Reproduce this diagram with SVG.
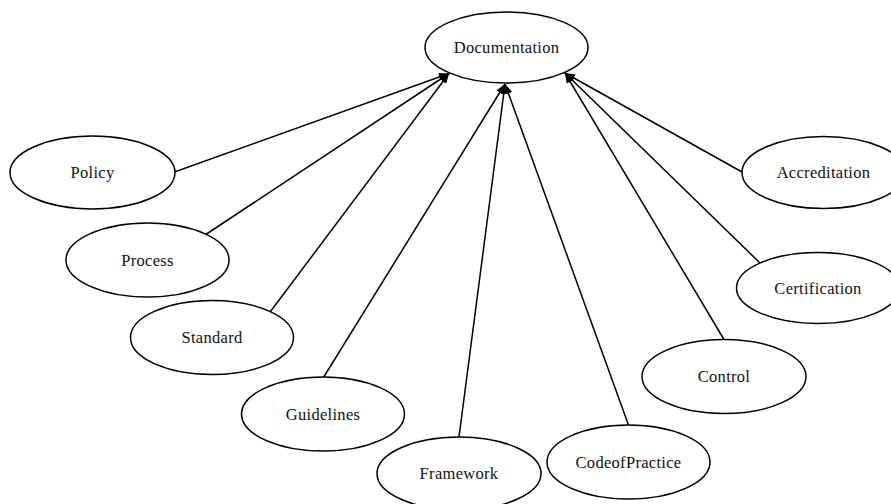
<svg xmlns="http://www.w3.org/2000/svg" width="891" height="504" viewBox="0 0 891 504">
  <style>
    .node ellipse { fill: #fff; stroke: #000; stroke-width: 1.5; }
    .node text { font-family: "Liberation Serif", "DejaVu Serif", serif; font-size: 16.5px; letter-spacing: 0.3px; text-anchor: middle; dominant-baseline: central; fill: #111; }
    .edges line { stroke: #000; stroke-width: 1.5; marker-end: url(#arrow); }
  </style>
  <defs>
    <marker id="arrow" viewBox="0 0 10 8" refX="10" refY="4" markerWidth="10" markerHeight="8" markerUnits="userSpaceOnUse" orient="auto">
      <path d="M0,0 L10,4 L0,8 Z" fill="#000"/>
    </marker>
  </defs>
  <rect width="891" height="504" fill="#fff"/>

  <!-- connectors: every topic points to Documentation -->
  <g id="edges" class="edges">
    <line x1="173" y1="172.5" x2="449" y2="73.5"/>
    <line x1="205" y1="235" x2="449" y2="73.5"/>
    <line x1="270.5" y1="311.5" x2="449" y2="73.5"/>
    <line x1="322.5" y1="379" x2="505" y2="84"/>
    <line x1="459" y1="437" x2="505" y2="84"/>
    <line x1="628.5" y1="425" x2="505" y2="84"/>
    <line x1="724" y1="339.5" x2="565" y2="73"/>
    <line x1="760" y1="263" x2="565" y2="73"/>
    <line x1="742" y1="172" x2="565" y2="73"/>
  </g>

  <g id="documentation" class="node">
    <ellipse cx="506.5" cy="47.5" rx="81.5" ry="35.5"/>
    <text x="506.5" y="47.5">Documentation</text>
  </g>
  <g id="policy" class="node">
    <ellipse cx="92.5" cy="172.5" rx="82.5" ry="36.5"/>
    <text x="92.5" y="172.5">Policy</text>
  </g>
  <g id="process" class="node">
    <ellipse cx="147.5" cy="260" rx="81.5" ry="37"/>
    <text x="147.5" y="260">Process</text>
  </g>
  <g id="standard" class="node">
    <ellipse cx="212" cy="337.5" rx="81.5" ry="37"/>
    <text x="212" y="337.5">Standard</text>
  </g>
  <g id="guidelines" class="node">
    <ellipse cx="323" cy="414" rx="81.5" ry="37"/>
    <text x="323" y="414">Guidelines</text>
  </g>
  <g id="framework" class="node">
    <ellipse cx="459" cy="473.5" rx="82" ry="36.5"/>
    <text x="459" y="473.5">Framework</text>
  </g>
  <g id="codeofpractice" class="node">
    <ellipse cx="628.5" cy="462" rx="81.5" ry="37"/>
    <text x="628.5" y="462">CodeofPractice</text>
  </g>
  <g id="control" class="node">
    <ellipse cx="724" cy="376.5" rx="82" ry="37"/>
    <text x="724" y="376.5">Control</text>
  </g>
  <g id="certification" class="node">
    <ellipse cx="818" cy="288" rx="81.5" ry="35.5"/>
    <text x="818" y="288">Certification</text>
  </g>
  <g id="accreditation" class="node">
    <ellipse cx="823.5" cy="172.5" rx="81.5" ry="36"/>
    <text x="823.5" y="172.5">Accreditation</text>
  </g>
</svg>
